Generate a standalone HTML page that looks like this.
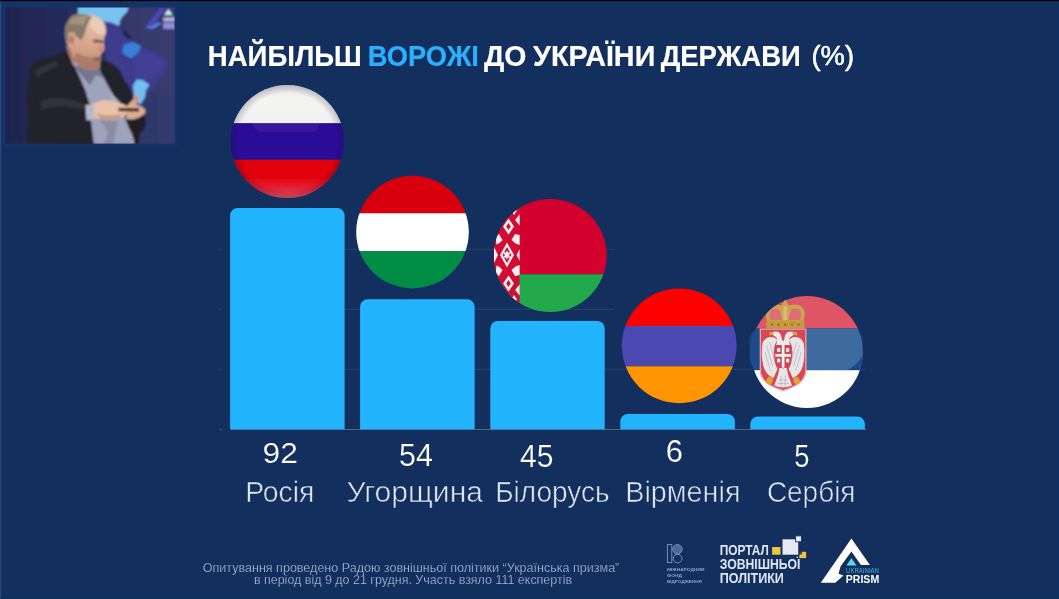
<!DOCTYPE html>
<html lang="uk">
<head>
<meta charset="utf-8">
<title>Найбільш ворожі до України держави (%)</title>
<style>
html,body{margin:0;padding:0;background:#122f5e;}
body{width:1059px;height:599px;overflow:hidden;position:relative;font-family:"Liberation Sans",sans-serif;}
svg{position:absolute;left:0;top:0;display:block;}
text{font-family:"Liberation Sans",sans-serif;}
.t{font-weight:700;font-size:28.8px;fill:#fff;stroke:#fff;stroke-width:0.2px;}
.num{font-size:31.2px;fill:#fff;stroke:#122f5e;stroke-width:0.2px;paint-order:fill stroke;}
.lab{font-size:29.6px;fill:#e2e9f6;stroke:#122f5e;stroke-width:0.62px;paint-order:fill stroke;}
.foot{font-size:12.4px;fill:#b2c1dc;stroke:#122f5e;stroke-width:0.25px;paint-order:fill stroke;}
.pz{font-weight:700;font-size:13.8px;fill:#dfe6f4;}
</style>
</head>
<body>
<svg id="stage" width="1059" height="599" viewBox="0 0 1059 599">
<defs>
  <clipPath id="cRU"><circle cx="287.3" cy="141.5" r="56.6"/></clipPath>
  <clipPath id="cHU"><circle cx="412.5" cy="232.1" r="56.3"/></clipPath>
  <clipPath id="cBY"><circle cx="550.2" cy="255.5" r="56.5"/></clipPath>
  <clipPath id="cAM"><circle cx="679.2" cy="345.8" r="57.4"/></clipPath>
  <clipPath id="cRS"><circle cx="807" cy="352" r="55.9"/></clipPath>
  <clipPath id="cPH"><rect x="5.4" y="7.4" width="169.2" height="136.4"/></clipPath>
  <filter id="b1" x="-5%" y="-5%" width="110%" height="110%"><feGaussianBlur stdDeviation="0.85"/></filter>
  <linearGradient id="gRUw" x1="0" y1="84" x2="0" y2="123.4" gradientUnits="userSpaceOnUse"><stop offset="0" stop-color="#e2e2e0"/><stop offset="0.35" stop-color="#f4f4f3"/><stop offset="1" stop-color="#f1f1f1"/></linearGradient>
  <linearGradient id="gRUr" x1="0" y1="159.8" x2="0" y2="198.5" gradientUnits="userSpaceOnUse"><stop offset="0" stop-color="#e00006"/><stop offset="0.45" stop-color="#e4000c"/><stop offset="0.8" stop-color="#e62a40"/><stop offset="1" stop-color="#ea5565"/></linearGradient>
  <radialGradient id="gRUe" cx="287.3" cy="141.5" r="56.6" gradientUnits="userSpaceOnUse"><stop offset="0.86" stop-color="#000" stop-opacity="0"/><stop offset="1" stop-color="#201040" stop-opacity="0.22"/></radialGradient>
  <linearGradient id="gPbg" x1="5" y1="0" x2="175" y2="0" gradientUnits="userSpaceOnUse"><stop offset="0" stop-color="#1e244d"/><stop offset="0.3" stop-color="#232a58"/><stop offset="0.6" stop-color="#2b3364"/><stop offset="1" stop-color="#313c6e"/></linearGradient>
  <filter id="soft" x="-2%" y="-2%" width="104%" height="104%" filterUnits="objectBoundingBox"><feGaussianBlur stdDeviation="0.4"/></filter>
  <filter id="b2" x="-10%" y="-10%" width="120%" height="120%"><feGaussianBlur stdDeviation="2.2"/></filter>
  <linearGradient id="gFace" x1="86" y1="16" x2="80" y2="70" gradientUnits="userSpaceOnUse"><stop offset="0" stop-color="#e6c1ab"/><stop offset="0.5" stop-color="#d8a88f"/><stop offset="1" stop-color="#bd8873"/></linearGradient>
</defs>
<rect x="0" y="0" width="1059" height="599" fill="#122f5e"/>
<g id="photo">
  <rect x="-4" y="-4" width="183" height="152" fill="#123066" filter="url(#b2)"/>
  <rect x="0" y="1" width="1.2" height="598" fill="#2b497b"/>
  <g clip-path="url(#cPH)">
    <g filter="url(#b1)">
      <rect x="0" y="0" width="180" height="150" fill="url(#gPbg)"/>
      <path d="M112 0 H180 V100 L150 92 L168 64 L140 45 L128 34 L122 24Z" fill="#3a3b6c" fill-opacity="0.75"/>
      <!-- wall map -->
      <path d="M104 20 L112 22.5 L119.3 26 L122 30 L128 34 L133 41.7 L140.4 46.3 L155 51.8 L165.1 57.3 L168.8 63.7 L167 71 L162.4 76.6 L156.9 82 L153.2 88.5 L149.5 93 L146 97 L143 106 L138 114 L126 116 L116 92 L108 66 L102 40Z" fill="#3d3a8b"/>
      <path d="M140 52 L158 56 L164 63 L160 72 L152 78 L146 80 L136 78 L132 62Z" fill="#433f96"/>
      <path d="M78.1 6 H128.4 L127.5 11.4 L123 16 L120.2 19.7 L119.3 26.1 L111 22.4 L104 21.5 L92 30 L78 22Z" fill="#79c2ef"/>
      <path d="M122 31 L126.5 31.5 L131.2 37.5 L129.5 39.2 L124.5 36Z" fill="#22244e"/>
      <path d="M123.9 44.4 L133 41.7 L141.3 46.3 L139.4 51 L135.5 55 L131.2 58.2 L126.5 56 L122 52.7Z" fill="#387fd6"/>
      <path d="M136.7 79.3 L143.1 80.2 L149.5 84.8 L145.9 90.3 L145 96.7 L143.1 100.4 L139.4 105 L133.9 96.7 L133 85.7Z" fill="#70c0f0"/>
      <path d="M145 27 L160.5 7.6 L166 7.6 L155 23.3 L161.5 23.3 L152.5 28.5Z" fill="#4947b2"/>
      <path d="M145 27.2 L152.5 29 L161.5 23.6 L158 22.6 L151.5 26.5Z" fill="#5588de"/>
      <path d="M168.4 9 L172.6 15.1 L164.2 15.1Z" fill="#c4eef4"/>
      <rect x="163.3" y="17.5" width="12" height="3.6" fill="#b3bcdb"/>
      <rect x="163.3" y="22.4" width="12" height="6.5" fill="#938ad9"/>
      <!-- neck -->
      <path d="M66 46 L76 46 L80 58 L92 66 L84 72 L72 64Z" fill="#a97a63"/>
      <!-- shirt -->
      <path d="M72 62 L100 64 L110 78 L124 100 L128 120 L135 144 L92 144 L90 118 L86 92 L78 74Z" fill="#9ea2ba"/>
      <path d="M73 66 L99.4 65 L104 78 L96 75 L90 85 L82 76Z" fill="#73768f"/>
      <path d="M100 120 L118 121 L113 144 L104 144 L108 132Z" fill="#8a8da5"/>
      <path d="M108 80 L122 100 L112 100Z" fill="#b1b5c9"/>
      <!-- jacket -->
      <path d="M64 51.4 L56 54.7 L46.7 57.4 L38.7 60 L33.4 62.2 L31.2 65.6 L29.8 72 L28.3 82 L26.7 95 L27.5 112 L26.7 145 L94 145 L91 121 L89.5 103.5 L85.4 91.4 L80 78 L74.8 68 L68 56Z" fill="#24232b"/>
      <path d="M100 60.5 L106 61 L110.7 62.7 L116 66.5 L120 70.8 L124 80 L128 85 L132 92.7 L133.6 100 L130 106 L125.4 119.4 L120 102 L113.4 95.4 L106.7 83.4 L100 70Z" fill="#222129"/>
      <path d="M125.4 119 L133 119.5 L139 117.5 L144.5 114.5 L145.6 120 L145.4 126 L143 131 L139.5 134 L138.7 145 L134.7 145 L133.4 136.8 L129 128Z" fill="#201f28"/>
      <path d="M40 101 Q60 93 84 104 L84 110 Q60 103 42 110Z" fill="#33313a"/>
      <path d="M35 70 Q45 64 56 61 L59 66 Q46 71 37 78Z" fill="#323039"/>
      <!-- cuff + hands -->
      <path d="M85.4 105 L93.5 104.3 L94.5 119.4 L86.4 120.4Z" fill="#b4b8cb"/>
      <path d="M93 103.5 L103 100 L114 101 L124 104.5 L129.5 108 L129.5 112 L124 116.5 L114 119.4 L101 119.4 L94.5 117.5Z" fill="#e7c2a9"/>
      <path d="M127 106 L133 99.5 L135.3 95 L138.3 94.6 L139.4 97 L138.5 100.5 L136 104.5 L143 107.5 L145.6 110.5 L144.5 114 L139 117.5 L133 119.5 L126.5 119Z" fill="#dcac93"/>
      <path d="M134 97 L138.5 95 L139 99 L136 103.5Z" fill="#cf8f7c"/>
      <path d="M118.5 107.8 L139 108.3 L139 111.5 L118.5 111.2Z" fill="#43201a"/>
      <path d="M96 113 Q108 117.5 122 114 L118 119 L101 119.4Z" fill="#c99a82"/>
      <!-- head -->
      <path d="M65 30.1 Q65.5 22 72.5 15.5 Q77 13.9 81.9 14.1 L90 14.6 Q95.5 15.5 99.4 17.9 Q103 20.5 104.7 23.7 Q106.3 28 106.1 31.9 L104.2 38 L103.6 42 L104.6 49.5 L100.5 55 L100.8 60 L98.5 68.5 Q92 71.5 84 69 Q76.5 65 73 58 L71 49.5 Q64.5 44 65 30.1Z" fill="url(#gFace)"/>
      <path d="M65 30.1 Q65.5 22 72.5 15.5 Q77 13.9 81.9 14.1 Q88 14.3 92 17.5 Q87.5 22 86 29 Q84.5 35 81.5 40.5 L76.5 36.5 L73.5 31.5 L70 35 L69.5 44.5 Q64.6 40 65 30.1Z" fill="#877868"/>
      <path d="M71 19 Q78 14.5 89 16 Q85 20 83 26 Q77 22 69 25Z" fill="#a39480"/>
      <path d="M68 33 Q73 30.5 75.5 36.5 L75.5 46.5 Q71 48.5 69.3 43Z" fill="#cf9d85"/>
      <path d="M70.5 36.5 Q72.5 35.5 73 39.5 L72.5 44 Q71 44 70.5 41Z" fill="#a06c58"/>
      <path d="M90 18.5 Q99.5 16.5 104.2 25 L105.6 34.5 L97 33.5 L90.5 28Z" fill="#eccbb6"/>
      <path d="M76 52 Q84 58 94 57 L100.8 56 L99.8 63 L98.5 68.5 Q92 71.5 84 69 Q77 65.5 74 59Z" fill="#a9776a" fill-opacity="0.85"/>
      <path d="M93.2 39.3 L103 40.3 L103.3 43.2 L93.6 42.6Z" fill="#7d584b"/>
      <path d="M99.5 44 L104.3 49.5 L100.5 52 L98.5 49Z" fill="#c98f7a"/>
      <path d="M94 58.5 L101 57.5 L100.8 59.7 L94.5 60.7Z" fill="#87564c"/>
    </g>
  </g>
</g>
<g id="chart" filter="url(#soft)">
  <g stroke="#27416d" stroke-width="1" fill="none">
    <line x1="231" y1="249.4" x2="614" y2="249.4"/>
    <line x1="231" y1="309.4" x2="614" y2="309.4"/>
    <line x1="231" y1="369.4" x2="866" y2="369.4"/>
    <line x1="231" y1="429.5" x2="866" y2="429.5" stroke="#536486"/>
  </g>
  <g fill="#2a4570">
    <rect x="219.6" y="248.6" width="1.6" height="1.8"/>
    <rect x="219.6" y="308.6" width="1.6" height="1.8"/>
    <rect x="219.6" y="368.6" width="1.6" height="1.8"/>
    <rect x="219.6" y="428.6" width="1.8" height="1.8" fill="#3d5680"/>
  </g>
  <g fill="#24b4ff">
    <path d="M230.1 429.3V215.6a7.5 7.5 0 0 1 7.5-7.5H337.1a7.5 7.5 0 0 1 7.5 7.5V429.3Z"/>
    <path d="M360.1 429.3V306.7a7.5 7.5 0 0 1 7.5-7.5H467.1a7.5 7.5 0 0 1 7.5 7.5V429.3Z"/>
    <path d="M490.3 429.3V328.4a7.5 7.5 0 0 1 7.5-7.5H597.2a7.5 7.5 0 0 1 7.5 7.5V429.3Z"/>
    <path d="M620.3 429.3V421.6a7.5 7.5 0 0 1 7.5-7.5H727.4a7.5 7.5 0 0 1 7.5 7.5V429.3Z"/>
    <path d="M750.3 429.3V424.1a7.5 7.5 0 0 1 7.5-7.5H857.4a7.5 7.5 0 0 1 7.5 7.5V429.3Z"/>
  </g>
</g>
<g id="flags" filter="url(#soft)">
  <g clip-path="url(#cRU)">
    <rect x="230" y="84" width="115" height="39.4" fill="url(#gRUw)"/>
    <rect x="230" y="123.3" width="115" height="36.6" fill="#2b0a97"/>
    <rect x="230" y="159.8" width="115" height="40" fill="url(#gRUr)"/>
    <rect x="252" y="76" width="68" height="56" rx="9" fill="#fff" fill-opacity="0.06"/>
    <circle cx="287.3" cy="141.5" r="56.6" fill="url(#gRUe)"/>
  </g>
  <g clip-path="url(#cHU)">
    <rect x="355" y="175" width="115" height="38.3" fill="#d9000d"/>
    <rect x="355" y="213.3" width="115" height="38" fill="#ffffff"/>
    <rect x="355" y="251.3" width="115" height="38" fill="#008c45"/>
  </g>
  <g clip-path="url(#cBY)">
    <rect x="493" y="198" width="115" height="76.3" fill="#d3062f"/>
    <rect x="493" y="274.3" width="115" height="39" fill="#20a94c"/>
    <rect x="493" y="198" width="26.6" height="115" fill="#d21034"/>
    <g fill="#f7f0f1">
      <path d="M507 242.5 l7 12.5 l-7 12.5 l-7 -12.5Z"/>
      <path d="M511.5 240 l3.5 -6 l4.6 1 v10 l-4 -1.5Z"/>
      <path d="M502.5 240 l-3.5 -6 l-3.5 2.5 l1 8 l3 -1.5Z"/>
      <path d="M511.5 270 l3.5 6 l4.6 -1 v-10 l-4 1.5Z"/>
      <path d="M502.5 270 l-3.5 6 l-3.5 -2.5 l1 -8 l3 1.5Z"/>
      <path d="M508.5 218.5 l5.5 8 l-5.5 8 l-5.5 -8Z"/>
      <path d="M508.5 275.5 l5.5 8 l-5.5 8 l-5.5 -8Z"/>
      <path d="M519.6 214.5 l-4.5 5.5 l4.5 5.5Z"/>
      <path d="M519.6 284.5 l-4.5 5.5 l4.5 5.5Z"/>
      <path d="M514 206 l3 4.5 l-3 4.5 l-3 -4.5Z"/>
      <path d="M514 295 l3 4.5 l-3 4.5 l-3 -4.5Z"/>
      <path d="M494 247 l4 8 l-4 8Z"/>
      <path d="M519.6 249 l-3 6 l3 6Z"/>
      <path d="M503 222 l-3 4 l-3.5 -3 l2.5 -5Z"/>
      <path d="M503 288 l-3 -4 l-3.5 3 l2.5 5Z"/>
    </g>
    <g fill="#d21034">
      <path d="M507 247 l4.3 8 l-4.3 8 l-4.3 -8Z"/>
      <path d="M508.5 223 l2.3 3.5 l-2.3 3.5 l-2.3 -3.5Z"/>
      <path d="M508.5 280 l2.3 3.5 l-2.3 3.5 l-2.3 -3.5Z"/>
    </g>
    <g fill="#f7f0f1">
      <path d="M507 250.5 l1.3 2.2 l1.2 -0.7 l0.7 1.5 l-1.2 1.5 l1.2 1.5 l-0.7 1.5 l-1.2 -0.7 l-1.3 2.2 l-1.3 -2.2 l-1.2 0.7 l-0.7 -1.5 l1.2 -1.5 l-1.2 -1.5 l0.7 -1.5 l1.2 0.7Z"/>
    </g>
  </g>
  <g clip-path="url(#cAM)">
    <rect x="620" y="287" width="118" height="39" fill="#fe0000"/>
    <rect x="620" y="326" width="118" height="40.3" fill="#4b48b1"/>
    <rect x="620" y="366.3" width="118" height="39" fill="#ff9500"/>
  </g>
  <rect x="749.5" y="329" width="113" height="41" rx="11" fill="#2f5f9a" fill-opacity="0.42"/>
  <g clip-path="url(#cRS)">
    <rect x="750" y="295" width="115" height="33.5" fill="#df5565"/>
    <rect x="750" y="328.5" width="115" height="41.7" fill="#3e6a9f"/>
    <rect x="750" y="328.5" width="10" height="41.7" fill="#1f4c8c"/>
    <path d="M846 370.2 Q858 366 864 352 V370.2Z" fill="#1f4a8a"/>
    <rect x="750" y="370.2" width="115" height="39" fill="#ffffff"/>
    <!-- crown -->
    <path d="M767.5 322 Q763.5 312 768.5 307 Q774 303 781 305.5 L783.6 302.5 L784.3 299.5 L785.3 298 L786.3 299.5 L787 302.5 L789.6 305.5 Q796.5 303 802 307 Q807 312 803 322Z" fill="#caa352"/>
    <path d="M770.5 320 Q768 312 772 309 Q777 307.5 780 311 Q782 315 781.5 320Z M789 320 Q788.5 315 790.5 311 Q793.5 307.5 798.5 309 Q802.5 312 800 320Z" fill="#dd6f76"/>
    <path d="M783.3 320 L783.3 308 L785.3 305 L787.3 308 L787.3 320Z" fill="#d9bb72"/>
    <rect x="766.3" y="320.5" width="38.2" height="8" rx="1" fill="#c59a3c"/>
    <g fill="#7a5a30"><circle cx="772" cy="324.5" r="1"/><circle cx="778.5" cy="324.5" r="1"/><circle cx="785.3" cy="324.5" r="1"/><circle cx="792" cy="324.5" r="1"/><circle cx="798.5" cy="324.5" r="1"/></g>
    <!-- shield -->
    <path d="M759.7 328.5 H806.5 V370 Q806.5 384.5 783.1 391.2 Q759.7 384.5 759.7 370Z" fill="#e9a3aa"/>
    <path d="M761 329.8 H805.2 V370 Q805.2 383.4 783.1 389.8 Q761 383.4 761 370Z" fill="#d94655"/>
    <!-- eagle wings -->
    <path d="M774.5 337.5 Q765.5 335 762.4 343.5 Q760.8 356 763.5 366.5 Q766.5 375.5 773.5 378 L777.5 369 Q773.5 362 773.8 352 Q774 344 777.5 340Z" fill="#e6e5e8"/>
    <path d="M791.7 337.5 Q800.7 335 803.8 343.5 Q805.4 356 802.7 366.5 Q799.7 375.5 792.7 378 L788.7 369 Q792.7 362 792.4 352 Q792.2 344 788.7 340Z" fill="#e6e5e8"/>
    <g stroke="#b9b4bc" stroke-width="0.7" fill="none">
      <path d="M766.5 345 L772.5 366 M769.5 342 L775 362 M765 352 L770.5 371"/>
      <path d="M799.7 345 L793.7 366 M796.7 342 L791.2 362 M801.2 352 L795.7 371"/>
    </g>
    <!-- heads + body + tail -->
    <path d="M771 333.5 Q774 330.5 778.5 332 Q781.5 334 781.8 339 L783.1 341.5 L784.4 339 Q784.7 334 787.7 332 Q792.2 330.5 795.2 333.5 L792 336 Q789.5 336.5 789 340 L790 345 H776.2 L777.2 340 Q776.7 336.5 774.2 336Z" fill="#ebeaec"/>
    <path d="M779.5 368 H786.7 L788.5 376 L792 385.5 Q783.1 389.5 774.2 385.5 L777.7 376Z" fill="#e6e5e8"/>
    <g stroke="#aeaab2" stroke-width="0.6" fill="none"><path d="M779 380 L787.2 380 M777.5 383.5 L788.7 383.5 M781 376 L781 387 M785.2 376 L785.2 387"/></g>
    <path d="M775.3 345 H791 V361.5 Q791 365.8 783.1 368.5 Q775.3 365.8 775.3 361.5Z" fill="#cf4557"/>
    <path d="M781.8 345 h2.7 v9 h6.5 v2.7 h-6.5 v11 h-2.7 v-11 h-6.5 v-2.7 h6.5Z" fill="#f3f0f1"/>
    <g fill="#efe9ea"><rect x="777" y="348" width="3.3" height="4" rx="1"/><rect x="786" y="348" width="3.3" height="4" rx="1"/><rect x="777" y="358.5" width="3.3" height="4" rx="1"/><rect x="786" y="358.5" width="3.3" height="4" rx="1"/></g>
    <g fill="#dba43a">
      <path d="M770.5 376 l2.6 3 l-1.3 4.5 l-3.8 1 l-2.2 -3 l2 -4Z"/>
      <path d="M795.7 376 l-2.6 3 l1.3 4.5 l3.8 1 l2.2 -3 l-2 -4Z"/>
      <path d="M769 332.5 l4 -1 l1 2.5 l-4.5 1.5Z"/>
      <path d="M797.2 332.5 l-4 -1 l-1 2.5 l4.5 1.5Z"/>
    </g>
  </g>
</g>
<g id="text" filter="url(#soft)">
  <text class="t" x="207.8" y="65.9" textLength="154" lengthAdjust="spacingAndGlyphs">НАЙБІЛЬШ</text>
  <text class="t" x="367.8" y="65.9" textLength="111.1" lengthAdjust="spacingAndGlyphs" style="fill:#2cb0ff;stroke:#2cb0ff">ВОРОЖІ</text>
  <text class="t" x="484.1" y="65.9" textLength="42.4" lengthAdjust="spacingAndGlyphs">ДО</text>
  <text class="t" x="533.1" y="65.9" textLength="122.2" lengthAdjust="spacingAndGlyphs">УКРАЇНИ</text>
  <text class="t" x="660.7" y="65.9" textLength="140" lengthAdjust="spacingAndGlyphs">ДЕРЖАВИ</text>
  <text class="t" x="811.5" y="64.8" textLength="42.5" lengthAdjust="spacingAndGlyphs" style="font-weight:400;font-size:28px;stroke:#fff;stroke-width:0.55px">(%)</text>
  <text class="num" style="font-size:28.6px" x="262.6" y="463.2" textLength="35.4" lengthAdjust="spacingAndGlyphs">92</text>
  <text class="num" x="399" y="465.6" textLength="33.8" lengthAdjust="spacingAndGlyphs">54</text>
  <text class="num" x="520.1" y="466.5" textLength="33.4" lengthAdjust="spacingAndGlyphs">45</text>
  <text class="num" x="665.7" y="462" textLength="17.2" lengthAdjust="spacingAndGlyphs">6</text>
  <text class="num" x="794.3" y="466.5" textLength="15.2" lengthAdjust="spacingAndGlyphs">5</text>
  <text class="lab" x="245.2" y="501.8" textLength="69.2" lengthAdjust="spacingAndGlyphs">Росія</text>
  <text class="lab" x="346.5" y="501.8" textLength="136.5" lengthAdjust="spacingAndGlyphs">Угорщина</text>
  <text class="lab" x="495.2" y="501.8" textLength="114.4" lengthAdjust="spacingAndGlyphs">Білорусь</text>
  <text class="lab" x="625.2" y="501.8" textLength="115.3" lengthAdjust="spacingAndGlyphs">Вірменія</text>
  <text class="lab" x="766.9" y="501.8" textLength="88.6" lengthAdjust="spacingAndGlyphs">Сербія</text>
  <text class="foot" x="202.8" y="572.4" textLength="416.5" lengthAdjust="spacingAndGlyphs">Опитування проведено Радою зовнішньої політики “Українська призма”</text>
  <text class="foot" x="253.9" y="584.3" textLength="318.2" lengthAdjust="spacingAndGlyphs">в період від 9 до 21 грудня. Участь взяло 111 експертів</text>
</g>
<g id="logos" filter="url(#soft)">
  <g id="irf" fill="none" stroke="#7f97c4" stroke-width="0.9">
    <rect x="667.4" y="544.6" width="4.4" height="18"/>
    <circle cx="677.4" cy="549.3" r="4.7" fill="#7f97c4" fill-opacity="0.55"/>
    <circle cx="677.6" cy="558.6" r="4.3"/>
  </g>
  <g fill="#8ba2cc" style="font-size:4.3px;font-weight:700">
    <text x="667" y="571.2" textLength="37.4" lengthAdjust="spacingAndGlyphs">МІЖНАРОДНИЙ</text>
    <text x="667" y="577.2" textLength="15" lengthAdjust="spacingAndGlyphs">ФОНД</text>
    <text x="667" y="583.2" textLength="34.8" lengthAdjust="spacingAndGlyphs">ВІДРОДЖЕННЯ</text>
  </g>
  <g id="portal">
    <text class="pz" x="719.7" y="554.7" textLength="49.2" lengthAdjust="spacingAndGlyphs">ПОРТАЛ</text>
    <text class="pz" x="719.7" y="568.6" textLength="80.6" lengthAdjust="spacingAndGlyphs">ЗОВНІШНЬОЇ</text>
    <text class="pz" x="719.7" y="582.6" textLength="64.2" lengthAdjust="spacingAndGlyphs">ПОЛІТИКИ</text>
    <rect x="772.1" y="547" width="8.4" height="7.7" fill="#e9c540"/>
    <rect x="799.5" y="551.8" width="6.6" height="6.3" fill="#e9c540"/>
    <rect x="782.5" y="539.3" width="15.7" height="15.4" fill="#e8e8f0"/>
    <rect x="795.6" y="535.9" width="5.9" height="5.9" fill="#e8eef8" stroke="#122f5e" stroke-width="0.9"/>
    <rect x="799" y="551.3" width="3" height="3.2" fill="#122f5e" fill-opacity="0.8"/>
  </g>
  <g id="prism">
    <path fill="#fff" d="M851.4 538.5 L869.9 564.9 L861 564.9 L851.4 551.5 L840.5 566.5 L838.5 573.8 L843.5 575.4 L835.3 582.7 L820.8 582.7 Z"/>
    <path fill="#5fd6e6" d="M851.4 558.3 L856.6 565.6 L846.4 565.6 Z"/>
    <text x="846" y="573.3" textLength="33" lengthAdjust="spacingAndGlyphs" style="font-size:6.6px;fill:#3fb4d8">UKRAINIAN</text>
    <text x="845.8" y="582.7" textLength="33.4" lengthAdjust="spacingAndGlyphs" style="font-size:10.3px;font-weight:700;fill:#fff">PRISM</text>
  </g>
</g>
<rect x="1056.5" y="1" width="2.5" height="598" fill="#0f305f" fill-opacity="0.8"/>
<rect x="0" y="597.8" width="1059" height="1.2" fill="#0e3352"/>
<rect x="0" y="0" width="1059" height="1.1" fill="#000"/>
</svg>
</body>
</html>
